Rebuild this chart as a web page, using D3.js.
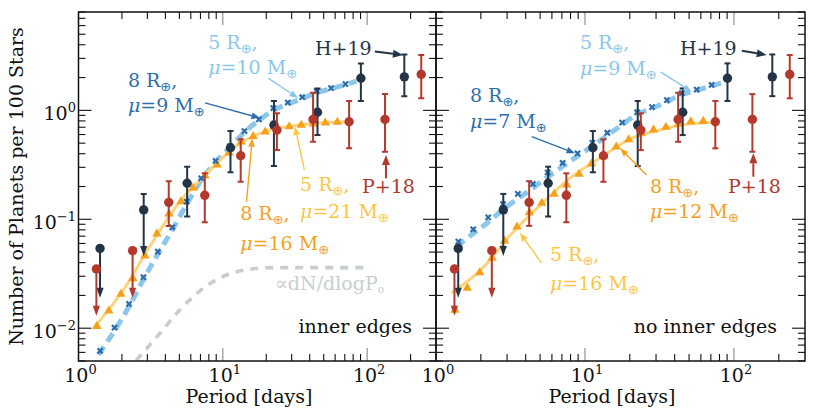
<!DOCTYPE html>
<html><head><meta charset="utf-8">
<script src="https://cdn.jsdelivr.net/npm/d3@7"></script>
<style>
body{margin:0;background:#fff}
svg{display:block}
svg text{font-family:"DejaVu Serif",serif;font-size:19px}
</style></head><body>
<svg id="c" width="830" height="415" font-family="DejaVu Serif"></svg>
<script>
// ---------------- data ----------------
// H+19 occurrence rates (dark navy)
const hPeriod = [1.41, 2.83, 5.66, 11.3, 22.6, 45.3, 90.5, 181];
const hRate   = [0.054, 0.122, 0.214, 0.454, 0.733, 0.96, 1.97, 2.03];
const hHi     = [null, 0.171, 0.304, 0.646, 1.22, 1.59, 2.70, 3.26];
const hLo     = [0.019, 0.046, 0.106, 0.27, 0.308, 0.593, 1.22, 1.35];
const hUpperLimit = [true, true, false, false, false, false, false, false];
// P+18 occurrence rates (red)
const pPeriod = [1.33, 2.37, 4.22, 7.5, 13.3, 23.7, 42.2, 75, 133, 237];
const pRate   = [0.035, 0.0515, 0.143, 0.166, 0.383, 0.659, 0.826, 0.786, 0.826, 2.14];
const pHi     = [null, null, 0.224, 0.264, 0.542, 0.94, 1.45, 1.22, 1.41, 3.22];
const pLo     = [0.013, 0.019, 0.087, 0.094, 0.221, 0.432, 0.515, 0.448, 0.417, 1.29];
const pUpperLimit = [true, true, false, false, false, false, false, false, false, false];

// model grid for 8 R_earth "x" markers
const xModelPeriod = [1.413, 1.778, 2.239, 2.818, 3.548, 4.467, 5.623, 7.079, 8.913, 11.22, 14.13, 17.78, 22.39, 28.18, 35.48, 44.67, 56.23, 70.79];
const blueXLeft  = [0.0062, 0.0101, 0.0167, 0.0294, 0.0504, 0.0845, 0.145, 0.238, 0.343, 0.47, 0.646, 0.827, 1.05, 1.18, 1.32, 1.50, 1.60, 1.74];
const blueXRight = [0.0623, 0.081, 0.104, 0.138, 0.171, 0.211, 0.269, 0.329, 0.403, 0.504, 0.623, 0.773, 0.961, 1.07, 1.24, 1.44, 1.55, 1.71];
// 5 R_earth light blue dashed curves
const lbPeriod = [1.37, 1.778, 2.239, 2.818, 3.548, 4.467, 5.623, 7.079, 8.913, 11.22, 14.13, 17.78, 22.39, 28.18, 35.48, 44.67, 56.23, 70.79, 84.1];
const lbLeft  = [0.0057, 0.0095, 0.0158, 0.028, 0.048, 0.080, 0.138, 0.228, 0.335, 0.46, 0.63, 0.81, 1.00, 1.14, 1.28, 1.45, 1.58, 1.72, 1.86];
const lbRight = [0.056, 0.074, 0.094, 0.123, 0.155, 0.193, 0.245, 0.305, 0.38, 0.47, 0.59, 0.74, 0.92, 1.04, 1.2, 1.4, 1.52, 1.68, 1.8];

// 8 R_earth triangle model
const triPeriod = [1.340, 1.623, 1.966, 2.382, 2.886, 3.497, 4.236, 5.132, 6.219, 7.534, 9.128, 11.06, 13.40, 16.23, 19.67, 23.82, 28.86, 34.97, 42.36, 51.32, 62.19];
const triLeft  = [0.0106, 0.0147, 0.0209, 0.0291, 0.0469, 0.0749, 0.114, 0.148, 0.197, 0.255, 0.321, 0.414, 0.523, 0.587, 0.646, 0.700, 0.722, 0.745, 0.767, 0.781, 0.793];
const triRight = [0.0149, 0.0238, 0.0330, 0.0448, 0.0645, 0.0867, 0.1174, 0.143, 0.173, 0.211, 0.264, 0.328, 0.388, 0.470, 0.548, 0.622, 0.676, 0.713, 0.764, 0.802, 0.809];
// 5 R_earth light orange solid curves
const loPeriod = [1.27, 2.0, 3.16, 5.01, 7.94, 12.6, 20.0, 31.6, 50.1, 75.9];
const loLeft   = [0.0100, 0.0215, 0.058, 0.144, 0.274, 0.478, 0.645, 0.725, 0.772, 0.785];
const loRight  = [0.021, 0.0343, 0.0718, 0.135, 0.239, 0.365, 0.545, 0.66, 0.748, 0.78];
// dN/dlogP0 gray curve (left panel)
const grayPeriod = [2.14, 2.53, 3.67, 5.05, 7.33, 10.6, 15.4, 22.4, 40, 100];
const grayRate   = [0.004, 0.00512, 0.009, 0.0148, 0.0233, 0.0308, 0.0348, 0.036, 0.036, 0.036];

// axes
const xDomain = [1, 300];
const yDomain = [0.005, 8];
const xMajor = [1, 10, 100];
const yMajor = [0.01, 0.1, 1];
const xTickLabels = ["0", "1", "2"];
const yTickLabels = ["\u22122", "\u22121", "0"];

// colours
const C = {navy:"#243447", red:"#b3392d", blueX:"#2d6eac", lblue:"#8ac7ea", orange:"#f6a11b",
           lorange:"#fdd47c", yellowText:"#fcc641", gray:"#c8cece"};

// annotations (positions in data units: period, rate)
const annLeft = [
  {s:["5 R⊕,", "μ=10 M⊕"], c:C.lblue, p:7.92, n:[3.66, 2.16]},
  {s:["8 R⊕,", "μ=9 M⊕"], c:C.blueX, p:2.20, n:[1.64, 0.967]},
  {s:["H+19"], c:C.navy, p:43.5, n:[3.22]},
  {s:["5 R⊕,", "μ=21 M⊕"], c:C.yellowText, p:34.3, n:[0.180, 0.103]},
  {s:["P+18"], c:C.red, p:92.2, n:[0.175]},
  {s:["8 R⊕,", "μ=16 M⊕"], c:C.orange, p:13.2, n:[0.0987, 0.0524]}
];
const arrLeft = [
  {a:[20.6,1.98], b:[33.2,1.30], c:C.lblue, w:1.4},
  {a:[7.53,1.17], b:[18.1,0.851], c:C.blueX, w:1.4},
  {a:[113,3.47], b:[177,3.22], c:C.navy, w:2},
  {a:[36.7,0.284], b:[31.6,0.709], c:C.yellowText, w:1.4},
  {a:[14.6,0.145], b:[16.0,0.555], c:C.orange, w:1.4},
  {a:[135,0.238], b:[135,0.390], c:C.red, w:2}
];
const annRight = [
  {s:["5 R⊕,", "μ=9 M⊕"], c:C.lblue, p:9.25, n:[3.66, 2.10]},
  {s:["8 R⊕,", "μ=7 M⊕"], c:C.blueX, p:1.69, n:[1.19, 0.69]},
  {s:["H+19"], c:C.navy, p:43.4, n:[3.22]},
  {s:["8 R⊕,", "μ=12 M⊕"], c:C.orange, p:27.3, n:[0.175, 0.103]},
  {s:["P+18"], c:C.red, p:91.2, n:[0.175]},
  {s:["5 R⊕,", "μ=16 M⊕"], c:C.yellowText, p:5.82, n:[0.0415, 0.0225]}
];
const arrRight = [
  {a:[32.2,2.26], b:[52.0,1.48], c:C.lblue, w:1.4},
  {a:[113,3.53], b:[166,3.22], c:C.navy, w:2},
  {a:[4.39,0.574], b:[8.57,0.404], c:C.blueX, w:1.4},
  {a:[25.9,0.255], b:[17.2,0.449], c:C.orange, w:1.4},
  {a:[135,0.246], b:[135,0.404], c:C.red, w:2},
  {a:[5.12,0.0396], b:[3.66,0.075], c:C.yellowText, w:1.4}
];

const panels = [
  {x0:78.5, x1:436, blueX:blueXLeft, lb:lbLeft, tri:triLeft, lo:loLeft, gray:true,
   ann:annLeft, arr:arrLeft, corner:"inner edges", yLabels:true, xlab:249},
  {x0:436, x1:805, blueX:blueXRight, lb:lbRight, tri:triRight, lo:loRight, gray:false,
   ann:annRight, arr:arrRight, corner:"no inner edges", yLabels:false, xlab:612}
];
const yTop = 12, yBottom = 361;
const FONT = "DejaVu Serif";

// ---------------- drawing ----------------
const svg = d3.select("#c");
const zip = (a, b) => a.map((v, i) => ({p: v, v: b[i]}));

function richText(g, x, y, str, color, anchor) {
  const t = g.append("text").attr("x", x).attr("y", y).attr("fill", color)
    .attr("font-family", FONT).attr("font-size", 19)
    .attr("text-anchor", anchor || "start");
  let buf = "", shifted = false;
  const SUB = 4;
  const flush = () => {
    if (buf) { const ts = t.append("tspan").text(buf); if (shifted) { ts.attr("dy", -SUB); shifted = false; } buf = ""; }
  };
  for (const ch of str) {
    if (ch === "⊕") {
      flush();
      t.append("tspan").text("⊕").attr("font-size", 13).attr("dy", SUB).attr("font-family", "DejaVu Sans");
      shifted = true;
    } else if (ch === "μ") {
      flush();
      const ts = t.append("tspan").text("μ").attr("font-style", "italic");
      if (shifted) { ts.attr("dy", -SUB); shifted = false; }
    } else buf += ch;
  }
  flush();
  return t;
}

function arrow(g, x1, y1, x2, y2, color, w) {
  const ang = Math.atan2(y2 - y1, x2 - x1);
  const hl = w > 1.6 ? 10 : 8.5, hw = w > 1.6 ? 4 : 3.3;
  const bx = x2 - hl * Math.cos(ang), by = y2 - hl * Math.sin(ang);
  g.append("line").attr("x1", x1).attr("y1", y1).attr("x2", bx).attr("y2", by)
    .attr("stroke", color).attr("stroke-width", w);
  const px = -Math.sin(ang) * hw, py = Math.cos(ang) * hw;
  g.append("path").attr("d", `M${x2},${y2}L${bx + px},${by + py}L${bx - px},${by - py}Z`).attr("fill", color);
}

function txt(g, x, y, s, anchor, color, size) {
  return g.append("text").attr("x", x).attr("y", y).attr("text-anchor", anchor || "start")
    .attr("fill", color || "#111").attr("font-family", FONT).attr("font-size", size || 19).text(s);
}

panels.forEach((P, idx) => {
  const x = d3.scaleLog().domain(xDomain).range([P.x0, P.x1]);
  const y = d3.scaleLog().domain(yDomain).range([yBottom, yTop]);
  const g = svg.append("g");
  const clipId = "clip" + idx;
  svg.append("clipPath").attr("id", clipId).append("rect")
    .attr("x", P.x0).attr("y", yTop).attr("width", P.x1 - P.x0).attr("height", yBottom - yTop);
  const d = g.append("g").attr("clip-path", `url(#${clipId})`);

  const line = d3.line().x(e => x(e.p)).y(e => y(e.v)).curve(d3.curveMonotoneX);

  if (P.gray) {
    d.append("path").attr("d", line(zip(grayPeriod, grayRate))).attr("fill", "none")
      .attr("stroke", C.gray).attr("stroke-width", 3.6).attr("stroke-dasharray", "8,7");
  }
  d.append("path").attr("d", line(zip(lbPeriod, P.lb))).attr("fill", "none")
    .attr("stroke", C.lblue).attr("stroke-width", 5).attr("stroke-dasharray", "10,6");
  d.append("path").attr("d", line(zip(loPeriod, P.lo))).attr("fill", "none")
    .attr("stroke", C.lorange).attr("stroke-width", 3);

  const tri = d3.symbol(d3.symbolTriangle, 38)();
  d.selectAll(null).data(zip(triPeriod, P.tri)).join("path")
    .attr("d", tri).attr("transform", e => `translate(${x(e.p)},${y(e.v) + 0.8})`).attr("fill", C.orange);

  const xs = "M-2.6,-2.6L2.6,2.6M-2.6,2.6L2.6,-2.6";
  d.selectAll(null).data(zip(xModelPeriod, P.blueX)).join("path")
    .attr("d", xs).attr("transform", e => `translate(${x(e.p)},${y(e.v)})`)
    .attr("stroke", C.blueX).attr("stroke-width", 2.2).attr("fill", "none");

  // observations
  function obs(per, rate, hi, lo, ul, color) {
    const data = per.map((p, i) => ({p, v: rate[i], hi: hi[i], lo: lo[i], ul: ul[i]}));
    data.forEach(e => {
      const cx = x(e.p), cy = y(e.v);
      if (e.hi != null) {
        d.append("line").attr("x1", cx).attr("x2", cx).attr("y1", y(e.hi)).attr("y2", cy)
          .attr("stroke", color).attr("stroke-width", 2);
        d.append("line").attr("x1", cx - 3).attr("x2", cx + 3).attr("y1", y(e.hi)).attr("y2", y(e.hi))
          .attr("stroke", color).attr("stroke-width", 2);
      }
      if (e.ul) {
        const tip = y(e.lo);
        d.append("line").attr("x1", cx).attr("x2", cx).attr("y1", cy).attr("y2", tip - 8)
          .attr("stroke", color).attr("stroke-width", 2);
        d.append("path").attr("d", `M${cx},${tip}L${cx - 3.6},${tip - 10}L${cx + 3.6},${tip - 10}Z`).attr("fill", color);
      } else {
        d.append("line").attr("x1", cx).attr("x2", cx).attr("y1", cy).attr("y2", y(e.lo))
          .attr("stroke", color).attr("stroke-width", 2);
        d.append("line").attr("x1", cx - 3).attr("x2", cx + 3).attr("y1", y(e.lo)).attr("y2", y(e.lo))
          .attr("stroke", color).attr("stroke-width", 2);
      }
      d.append("circle").attr("cx", cx).attr("cy", cy).attr("r", 4.7).attr("fill", color);
    });
  }
  obs(hPeriod, hRate, hHi, hLo, hUpperLimit, C.navy);
  obs(pPeriod, pRate, pHi, pLo, pUpperLimit, C.red);

  // annotations
  P.arr.forEach(a => arrow(g, x(a.a[0]), y(a.a[1]), x(a.b[0]), y(a.b[1]), a.c, a.w));
  P.ann.forEach(a => a.s.forEach((s, i) => richText(g, x(a.p), y(a.n[i]), s, a.c)));
  if (P.gray) {
    const t = txt(g, x(23.0), y(0.0225), "", "start", C.gray, 14.8);
    t.append("tspan").text("\u221DdN/dlogP");
    t.append("tspan").text("o").attr("font-size", 10.5).attr("dy", 3);
  }
  txt(g, P.x1 - (idx ? 28 : 24), 333, P.corner, "end");

  // ticks
  const ticks = g.append("g").attr("stroke", "#111").attr("stroke-width", 1.1);
  const xMinor = [];
  [1, 10, 100].forEach(dec => { for (let k = 2; k <= 9; k++) { const v = dec * k; if (v < xDomain[1]) xMinor.push(v); } });
  const yMinor = [];
  [0.001, 0.01, 0.1, 1].forEach(dec => { for (let k = 2; k <= 9; k++) { const v = dec * k; if (v >= yDomain[0] && v <= yDomain[1]) yMinor.push(v); } });
  xMajor.forEach(v => {
    ticks.append("line").attr("x1", x(v)).attr("x2", x(v)).attr("y1", yBottom).attr("y2", yBottom - 13).attr("stroke", "#888");
    ticks.append("line").attr("x1", x(v)).attr("x2", x(v)).attr("y1", yTop).attr("y2", yTop + 13).attr("stroke", "#888");
  });
  xMinor.forEach(v => {
    ticks.append("line").attr("x1", x(v)).attr("x2", x(v)).attr("y1", yBottom).attr("y2", yBottom - 7);
    ticks.append("line").attr("x1", x(v)).attr("x2", x(v)).attr("y1", yTop).attr("y2", yTop + 7);
  });
  yMajor.forEach(v => {
    ticks.append("line").attr("x1", P.x0).attr("x2", P.x0 + 13).attr("y1", y(v)).attr("y2", y(v));
    ticks.append("line").attr("x1", P.x1).attr("x2", P.x1 - 13).attr("y1", y(v)).attr("y2", y(v));
  });
  yMinor.forEach(v => {
    ticks.append("line").attr("x1", P.x0).attr("x2", P.x0 + 7).attr("y1", y(v)).attr("y2", y(v));
    ticks.append("line").attr("x1", P.x1).attr("x2", P.x1 - 7).attr("y1", y(v)).attr("y2", y(v));
  });

  // frame
  g.append("rect").attr("x", P.x0).attr("y", yTop).attr("width", P.x1 - P.x0).attr("height", yBottom - yTop)
    .attr("fill", "none").attr("stroke", "#111").attr("stroke-width", 1.5);

  // tick labels
  xMajor.forEach((v, i) => {
    const t = txt(g, x(v) + 2, 382, "", "middle");
    t.append("tspan").text("10");
    t.append("tspan").text(xTickLabels[i]).attr("font-size", 13).attr("dy", -8);
  });
  if (P.yLabels) {
    yMajor.forEach((v, i) => {
      const t = txt(g, 76, y(v) + 10, "", "end");
      t.append("tspan").text("10");
      t.append("tspan").text(yTickLabels[i]).attr("font-size", 13).attr("dy", -8);
    });
    txt(g, 0, 0, "Number of Planets per 100 Stars", "middle")
      .attr("transform", `translate(22.5,${(yTop + yBottom) / 2}) rotate(-90)`);
  }
  txt(g, P.xlab, 403, "Period [days]", "middle");
});
</script>
</body></html>
